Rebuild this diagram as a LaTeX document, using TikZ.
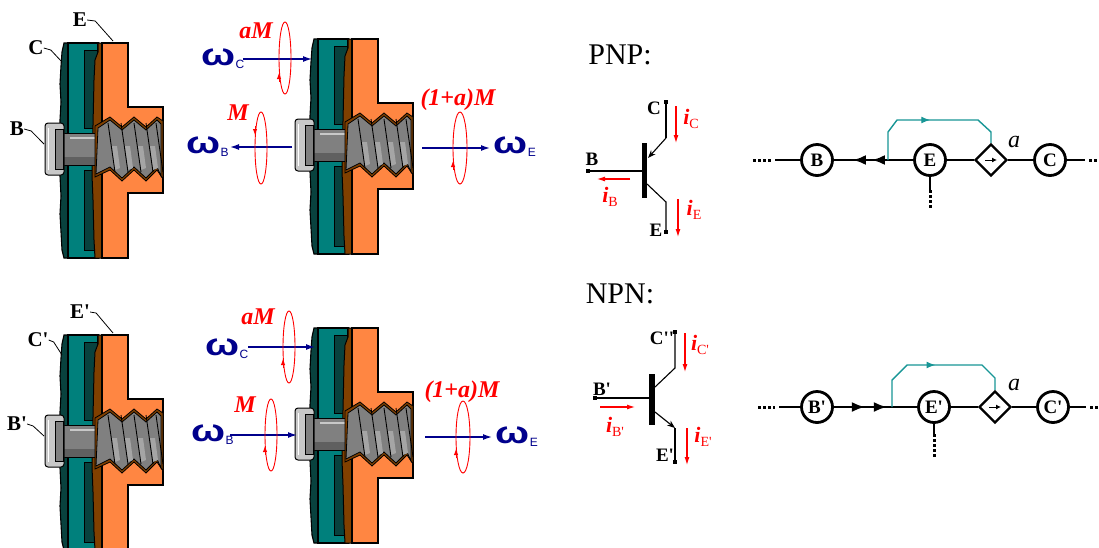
\documentclass[tikz,border=0pt]{standalone}
\usepackage{fontspec}
\setmainfont{Liberation Serif}
\newfontfamily\sansgr{Liberation Sans}
\usetikzlibrary{arrows.meta,shapes.geometric,decorations.markings}

\definecolor{tealdark}{RGB}{8,66,62}
\definecolor{tealmain}{RGB}{0,128,124}
\definecolor{orangeE}{RGB}{255,134,66}
\definecolor{brownE}{RGB}{128,64,0}
\definecolor{screwgray}{RGB}{128,128,128}
\definecolor{screwlight}{RGB}{200,200,200}
\definecolor{screwmid}{RGB}{165,165,165}
\definecolor{screwdark}{RGB}{96,96,96}
\definecolor{navyw}{RGB}{0,0,140}
\definecolor{redm}{RGB}{255,0,0}
\definecolor{flowteal}{RGB}{24,150,150}

\newcommand\prm{\textquotesingle}
% angular velocity label: omega with a sans subscript
\newcommand\omegalabel[1]{\scalebox{1.3}[1]{\sansgr\bfseries\fontsize{31}{31}\selectfont ω}\kern0.5pt\raisebox{-3pt}{\sansgr\fontsize{12}{12}\selectfont #1}}
% current label: bold italic i with a subscript
\newcommand\curlabel[1]{{\fontsize{22}{22}\selectfont\bfseries\itshape i}\raisebox{-4pt}{\fontsize{14}{14}\selectfont #1}}

% one screw unit: plate C, body E, bolt B (drawn in its own coordinates)
\newcommand\mechunit{%
  \filldraw[fill=tealdark,draw=black,line width=1.1pt]
    (64,43) -- (99,43) -- (99,258) -- (64,258) -- (62,250) -- (61,232) -- (60,214)
    -- (61,196) -- (60,176) -- (60,120) -- (61,102) -- (60,84) -- (61,66) -- (62,52) -- cycle;
  \filldraw[fill=tealmain,draw=black,line width=1.1pt] (68,43) rectangle (98,258);
  \filldraw[fill=tealdark,draw=black,line width=1pt] (84,50) rectangle (97,128);
  \filldraw[fill=tealdark,draw=black,line width=1pt] (84,170) rectangle (97,250);
  \filldraw[fill=brownE,draw=black,line width=1pt]
    (98,43) -- (102,43) -- (102,258) -- (95,258) -- (94,240) -- (93,200) -- (92,175)
    -- (93,125) -- (94,80) -- (95,60) -- (98,52) -- cycle;
  \filldraw[fill=orangeE,draw=black,line width=1.1pt]
    (102,43) -- (128,43) -- (128,107) -- (163,107) -- (163,193) -- (128,193) -- (128,258) -- (102,258) -- cycle;
  % bolt shank
  \filldraw[fill=screwgray,draw=black,line width=1pt] (63,133) rectangle (99,165);
  \fill[screwdark] (63.5,157) rectangle (98.5,164.5);
  \draw[screwlight,line width=1.5pt] (70,138) -- (96,138);
  % threaded hole and screw
  \filldraw[fill=brownE,draw=black,line width=0.8pt]
    (95,126) -- (110,117) -- (122,127) -- (134,117) -- (146,127) -- (157,117) -- (163,121)
    -- (163,179) -- (157,170) -- (146,181) -- (134,170) -- (122,181) -- (110,170) -- (95,177) -- cycle;
  \filldraw[fill=screwgray,draw=black,line width=0.8pt]
    (98,128) -- (110,120) -- (122,130) -- (134,120) -- (146,130) -- (157,120) -- (161,124)
    -- (161,176) -- (157,167) -- (146,178) -- (134,167) -- (122,178) -- (110,167) -- (96,174) -- cycle;
  \foreach \t in {108,121,134,146}
    \fill[screwmid] (\t+4,146) -- (\t+9,146) -- (\t+12,168) -- (\t+7,170) -- cycle;
  \foreach \t in {108,121,134,146,156}
    \draw[black,line width=0.9pt] (\t,123) -- (\t+7,172);
  % bolt head
  \filldraw[fill=screwlight,draw=black,line width=1pt,rounded corners=3pt] (45,123) rectangle (64,175);
  \filldraw[fill=screwgray,draw=black,line width=0.6pt] (55,129) rectangle (63,169);
  \draw[white,line width=1pt] (48,128) -- (48,170);
}

\begin{document}
\begin{tikzpicture}[x=1pt,y=-1pt,
  partlabel/.style={font=\fontsize{21}{21}\selectfont\bfseries, inner sep=0},
  leader/.style={line width=0.8pt},
  spin/.style={draw=navyw, line width=1.4pt, -{Latex[length=9pt,width=6pt]}},
  omg/.style={text=navyw, inner sep=0, anchor=west},
  torque/.style={draw=redm, line width=0.9pt},
  torquetip/.style={draw=redm, line width=0.9pt, -{Latex[length=6pt,width=4.5pt]}},
  torquelabel/.style={text=redm, font=\fontsize{24}{24}\selectfont\bfseries\itshape, inner sep=0},
  titlefont/.style={font=\fontsize{30}{30}\selectfont, inner sep=0},
  bar/.style={fill=black, minimum width=5.5pt, inner sep=0},
  termdot/.style={rectangle, fill=black, minimum size=4pt, inner sep=0},
  wire/.style={line width=1.1pt},
  pinlabel/.style={font=\fontsize{19}{19}\selectfont\bfseries, inner sep=0},
  curarrow/.style={draw=redm, line width=1.1pt, -{Latex[length=8pt,width=5pt]}},
  curlab/.style={text=redm, inner sep=0},
  flownode/.style={circle, draw, line width=2.8pt, minimum size=31pt, inner sep=0,
                   font=\fontsize{19}{19}\selectfont\bfseries},
  gain/.style={diamond, draw, line width=2.4pt, minimum width=32pt, minimum height=32pt, inner sep=0},
  flowline/.style={line width=2.4pt},
  dotsend/.style={line width=3pt, dash pattern=on 2.5pt off 2.5pt},
  fbline/.style={draw=flowteal, line width=1.4pt, postaction={decorate},
     decoration={markings, mark=at position 0.5 with {\arrow{Latex[length=9pt,width=7pt]}}}},
  gainlabel/.style={font=\fontsize{24}{24}\selectfont\itshape, inner sep=0}
]
\useasboundingbox (0,0) rectangle (1099,547);
\clip (0,0) rectangle (1099,547);
\fill[white] (0,0) rectangle (1099,547);

% ---------- screw units ----------
\mechunit
\begin{scope}[shift={(250,-4)}]\mechunit\end{scope}
\begin{scope}[shift={(0,292)}]\mechunit\end{scope}
\begin{scope}[shift={(250,285)}]\mechunit\end{scope}

% part labels, upper unit
\node[partlabel] (lE) at (80,20) {E};
\node[partlabel] (lC) at (36,48) {C};
\node[partlabel] (lB) at (17,129) {B};
\coordinate (kE) at (113,41);
\coordinate (kC) at (62,62);
\coordinate (kB) at (44,144);
\draw[leader] (lE.east) -- ++(8,1) -- (kE);
\draw[leader] (lC.east) -- ++(7,2) -- (kC);
\draw[leader] (lB.east) -- ++(7,2) -- (kB);

% part labels, lower unit
\node[partlabel] (lE2) at (80,312) {E\prm};
\node[partlabel] (lC2) at (38,340) {C\prm};
\node[partlabel] (lB2) at (17,424) {B\prm};
\coordinate (kE2) at (113,333);
\coordinate (kC2) at (62,355);
\coordinate (kB2) at (44,436);
\draw[leader] (lE2.east) -- ++(6,1) -- (kE2);
\draw[leader] (lC2.east) -- ++(5,2) -- (kC2);
\draw[leader] (lB2.east) -- ++(6,2) -- (kB2);

% ---------- velocities and torques, upper ----------
\node[omg] (wC) at (201,59) {\omegalabel{C}};
\node[omg] (wB) at (186,147) {\omegalabel{B}};
\node[omg] (wE) at (493,147) {\omegalabel{E}};
\coordinate (sC1) at (243,59);  \coordinate (eC1) at (312,59);
\coordinate (sB1) at (292,147); \coordinate (eB1) at (230,147);
\coordinate (sE1) at (422,148); \coordinate (eE1) at (490,148);
\draw[spin] (sC1) -- (eC1);
\draw[spin] (sB1) -- (eB1);
\draw[spin] (sE1) -- (eE1);

\node[torquelabel] (tC) at (256,31) {aM};
\node[torquelabel] (tB) at (238,113) {M};
\node[torquelabel] (tE) at (458,100) {(1+a)M};
\draw[torque] (285,58) ellipse [x radius=6pt, y radius=36pt];
\draw[torquetip] (279,82) -- (279,73);
\draw[torque] (261,148) ellipse [x radius=6pt, y radius=36pt];
\draw[torquetip] (255,126) -- (255,135);
\draw[torque] (460,148) ellipse [x radius=7pt, y radius=36pt];
\draw[torquetip] (453,170) -- (453,161);

% ---------- velocities and torques, lower ----------
\node[omg] (wC2) at (205,349) {\omegalabel{C}};
\node[omg] (wB2) at (191,435) {\omegalabel{B}};
\node[omg] (wE2) at (495,437) {\omegalabel{E}};
\coordinate (sC2) at (248,347); \coordinate (eC2) at (315,347);
\coordinate (sB2) at (230,435); \coordinate (eB2) at (297,435);
\coordinate (sE2) at (425,437); \coordinate (eE2) at (492,437);
\draw[spin] (sC2) -- (eC2);
\draw[spin] (sB2) -- (eB2);
\draw[spin] (sE2) -- (eE2);

\node[torquelabel] (tC2) at (258,317) {aM};
\node[torquelabel] (tB2) at (245,405) {M};
\node[torquelabel] (tE2) at (462,392) {(1+a)M};
\draw[torque] (289,347) ellipse [x radius=6pt, y radius=36pt];
\draw[torquetip] (283,368) -- (283,359);
\draw[torque] (271,435) ellipse [x radius=6pt, y radius=36pt];
\draw[torquetip] (265,455) -- (265,446);
\draw[torque] (463,437) ellipse [x radius=7pt, y radius=36pt];
\draw[torquetip] (456,458) -- (456,449);

% ---------- PNP transistor ----------
\node[titlefont] (tP) at (620,55) {PNP:};
\node[bar, minimum height=55pt] (barP) at (644.5,170.5) {};
\node[termdot] (bP) at (588,171) {};
\node[termdot] (cP) at (666,102) {};
\node[termdot] (eP) at (666,232) {};
\coordinate (cPk) at (666,138);
\coordinate (cPj) at (648,158);
\coordinate (ePj) at (647,184);
\coordinate (ePk) at (666,202);
\draw[wire] (bP.center) -- (bP.center -| barP.west);
\draw[wire] (cP.center) -- (cPk);
\draw[wire,-{Stealth[length=8pt,width=6pt]}] (cPk) -- (cPj);
\draw[wire] (ePj) -- (ePk) -- (eP.center);
\node[pinlabel] at (592,159) {B};
\node[pinlabel] at (654,108) {C};
\node[pinlabel] at (656,230) {E};
\coordinate (iC1) at (676,106); \coordinate (iC2) at (676,143);
\coordinate (iB1) at (630,179); \coordinate (iB2) at (597,179);
\coordinate (iE1) at (678,199); \coordinate (iE2) at (678,237);
\draw[curarrow] (iC1) -- (iC2);
\draw[curarrow] (iB1) -- (iB2);
\draw[curarrow] (iE1) -- (iE2);
\node[curlab] at (691,119) {\curlabel{C}};
\node[curlab] at (610,197) {\curlabel{B}};
\node[curlab] at (694,210) {\curlabel{E}};

% ---------- NPN transistor ----------
\node[titlefont] (tN) at (620,294) {NPN:};
\node[bar, minimum height=51pt] (barN) at (652,399.5) {};
\node[termdot] (bN) at (595,398) {};
\node[termdot] (cN) at (675,332) {};
\node[termdot] (eN) at (675,462) {};
\coordinate (cNk) at (675,368);
\coordinate (cNj) at (655,387);
\coordinate (eNj) at (655,412);
\coordinate (eNk) at (675,428);
\draw[wire] (bN.center) -- (bN.center -| barN.west);
\draw[wire] (cN.center) -- (cNk) -- (cNj);
\draw[wire,-{Stealth[length=8pt,width=6pt]}] (eNj) -- (eNk);
\draw[wire] (eNk) -- (eN.center);
\node[pinlabel] at (602,389) {B\prm};
\node[pinlabel] at (662,338) {C\prm\prm};
\node[pinlabel] at (665,455) {E\prm};
\coordinate (jC1) at (685,333); \coordinate (jC2) at (685,372);
\coordinate (jB1) at (600,407); \coordinate (jB2) at (635,407);
\coordinate (jE1) at (687,428); \coordinate (jE2) at (687,465);
\draw[curarrow] (jC1) -- (jC2);
\draw[curarrow] (jB1) -- (jB2);
\draw[curarrow] (jE1) -- (jE2);
\node[curlab] at (700,345) {\curlabel{C\prm}};
\node[curlab] at (615,427) {\curlabel{B\prm}};
\node[curlab] at (703,437) {\curlabel{E\prm}};

% ---------- signal flow graph, PNP ----------
\node[flownode] (B) at (817,160) {B};
\node[flownode] (E) at (930,160) {E};
\node[gain] (K) at (991,160) {};
\node[flownode] (C) at (1050,160) {C};
\node[gainlabel] (aK) at (1014,142) {a};
\draw[line width=1pt,-{Latex[length=5pt,width=5pt]}] ([xshift=-6pt]K.center) -- ([xshift=6pt]K.center);
\coordinate (Ldot) at (753,160); \coordinate (Ldot2) at (771,160); \coordinate (Lw) at (775,160);
\coordinate (Rw) at (1085,160); \coordinate (Rdot) at (1089,160); \coordinate (Rdot2) at (1099,160);
\coordinate (J) at (888,160);
\coordinate (Ed) at (930,190); \coordinate (Ed2) at (930,209);
\draw[dotsend] (Ldot) -- (Ldot2);
\draw[flowline] (Lw) -- (B);
\draw[flowline, postaction={decorate}, decoration={markings,
   mark=at position 19pt with {\arrowreversed{Latex[length=13pt,width=10pt]}},
   mark=at position 38pt with {\arrowreversed{Latex[length=13pt,width=10pt]}}}] (B) -- (E);
\draw[fbline] (J) -- (888,132) -- (897,120) -- (978,120) -- (991,132) -- (K.north);
\draw[flowline] (E) -- (K);
\draw[flowline] (K) -- (C);
\draw[flowline] (C) -- (Rw);
\draw[dotsend] (Rdot) -- (Rdot2);
\draw[flowline] (E) -- (Ed);
\draw[dotsend] (Ed) -- (Ed2);

% ---------- signal flow graph, NPN ----------
\node[flownode] (B2) at (817,407) {B\prm};
\node[flownode] (E2) at (934,407) {E\prm};
\node[gain] (K2) at (995,407) {};
\node[flownode] (C2) at (1053,407) {C\prm};
\node[gainlabel] (aK2) at (1014,385) {a};
\draw[line width=1pt,-{Latex[length=5pt,width=5pt]}] ([xshift=-6pt]K2.center) -- ([xshift=6pt]K2.center);
\coordinate (Ldotb) at (758,407); \coordinate (Ldotb2) at (775,407); \coordinate (Lwb) at (779,407);
\coordinate (Rwb) at (1086,407); \coordinate (Rdotb) at (1090,407); \coordinate (Rdotb2) at (1099,407);
\coordinate (J2) at (892,407);
\coordinate (Edb) at (934,434); \coordinate (Edb2) at (934,458);
\draw[dotsend] (Ldotb) -- (Ldotb2);
\draw[flowline] (Lwb) -- (B2);
\draw[flowline, postaction={decorate}, decoration={markings,
   mark=at position 31pt with {\arrow{Latex[length=13pt,width=10pt]}},
   mark=at position 53pt with {\arrow{Latex[length=13pt,width=10pt]}}}] (B2) -- (E2);
\draw[fbline] (J2) -- (892,380) -- (907,365) -- (982,365) -- (995,378) -- (K2.north);
\draw[flowline] (E2) -- (K2);
\draw[flowline] (K2) -- (C2);
\draw[flowline] (C2) -- (Rwb);
\draw[dotsend] (Rdotb) -- (Rdotb2);
\draw[flowline] (E2) -- (Edb);
\draw[dotsend] (Edb) -- (Edb2);
\end{tikzpicture}
\end{document}
